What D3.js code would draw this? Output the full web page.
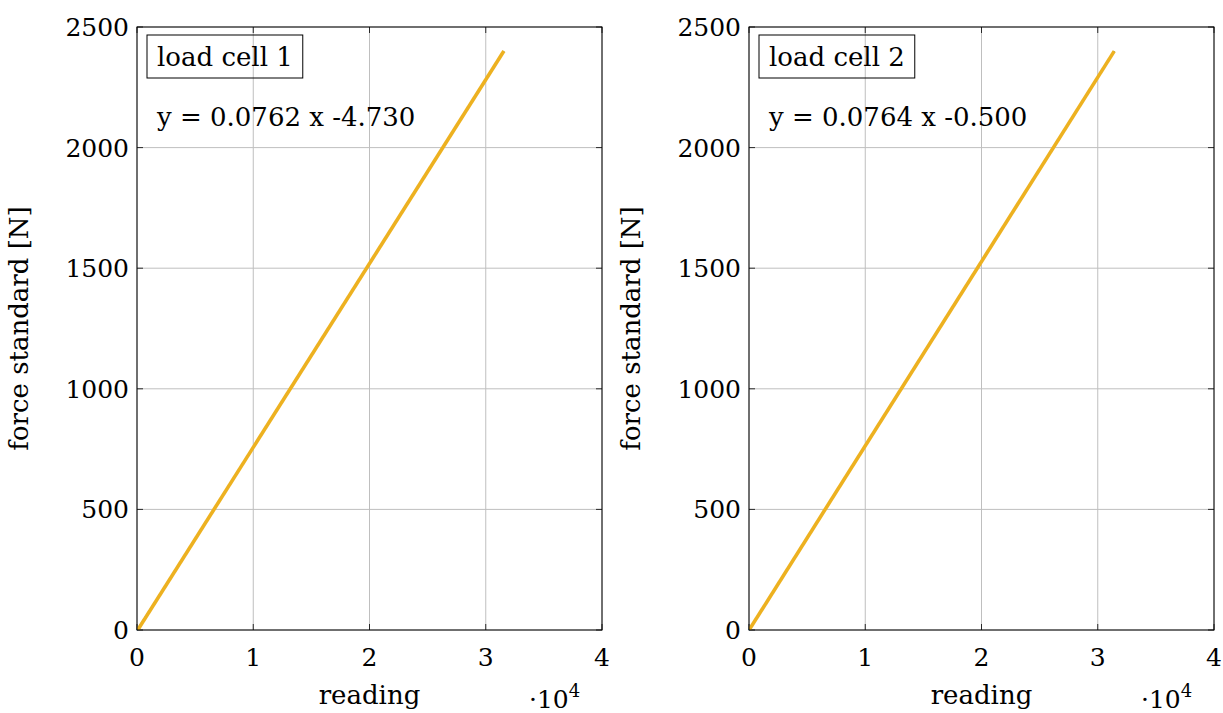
<!DOCTYPE html>
<html>
<head>
<meta charset="utf-8">
<script src="https://cdn.jsdelivr.net/npm/d3@7"></script>
<style>
  body { margin: 0; background: #fff; }
</style>
</head>
<body>
<div id="chart"></div>
<script>
// calibration steps of the force standard [N]
const forces = [0, 200, 400, 600, 800, 1000, 1200, 1400, 1600, 1800, 2000, 2200, 2400];
// raw readings of each load cell
const readings1 = [0, 2690, 5300, 7940, 10560, 13190, 15810, 18440, 21060, 23680, 26310, 28930, 31560];
const readings2 = [0, 2620, 5240, 7860, 10480, 13100, 15710, 18330, 20950, 23570, 26180, 28800, 31420];
const fits = [
  { label: "load cell 1", slope: 0.0762, offset: -4.730 },
  { label: "load cell 2", slope: 0.0764, offset: -0.500 }
];
const xTicks = [0, 10000, 20000, 30000, 40000];
const yTicks = [0, 500, 1000, 1500, 2000, 2500];

const W = 1223, H = 713;
const svg = d3.select("#chart").append("svg")
  .attr("width", W)
  .attr("height", H)
  .attr("font-family", "'DejaVu Serif', serif");

const panels = [
  { left: 137, readings: readings1, fit: fits[0] },
  { left: 749, readings: readings2, fit: fits[1] }
];
const plotTop = 27, plotBottom = 630, pw = 465;
const fs = 26, tfs = 25;

panels.forEach(p => {
  const x = d3.scaleLinear().domain([0, 40000]).range([p.left, p.left + pw]);
  const y = d3.scaleLinear().domain([0, 2500]).range([plotBottom, plotTop]);
  const g = svg.append("g");

  // grid
  g.append("g").selectAll("line").data(xTicks).enter().append("line")
    .attr("x1", d => x(d)).attr("x2", d => x(d))
    .attr("y1", plotTop).attr("y2", plotBottom)
    .attr("stroke", "#bfbfbf").attr("stroke-width", 1);
  g.append("g").selectAll("line").data(yTicks).enter().append("line")
    .attr("x1", p.left).attr("x2", p.left + pw)
    .attr("y1", d => y(d)).attr("y2", d => y(d))
    .attr("stroke", "#bfbfbf").attr("stroke-width", 1);

  // inward ticks on all sides
  const tk = g.append("g").attr("stroke", "#000").attr("stroke-width", 0.8);
  xTicks.forEach(d => {
    tk.append("line").attr("x1", x(d)).attr("x2", x(d)).attr("y1", plotBottom).attr("y2", plotBottom - 6);
    tk.append("line").attr("x1", x(d)).attr("x2", x(d)).attr("y1", plotTop).attr("y2", plotTop + 6);
  });
  yTicks.forEach(d => {
    tk.append("line").attr("x1", p.left).attr("x2", p.left + 6).attr("y1", y(d)).attr("y2", y(d));
    tk.append("line").attr("x1", p.left + pw).attr("x2", p.left + pw - 6).attr("y1", y(d)).attr("y2", y(d));
  });

  // data line (blue) and fit line (orange)
  const pts = p.readings.map((r, i) => [r, forces[i]]);
  g.append("path")
    .datum(pts)
    .attr("fill", "none")
    .attr("stroke", "#0072bd")
    .attr("stroke-width", 1.5)
    .attr("d", d3.line().x(d => x(d[0])).y(d => y(d[1])));

  const rmax = d3.max(p.readings);
  const fitPts = [0, rmax].map(r => [r, p.fit.slope * r + p.fit.offset]);
  g.append("clipPath").attr("id", "clip" + p.left)
    .append("rect").attr("x", p.left).attr("y", plotTop).attr("width", pw).attr("height", plotBottom - plotTop);
  g.append("path")
    .datum(fitPts)
    .attr("clip-path", `url(#clip${p.left})`)
    .attr("fill", "none")
    .attr("stroke", "#edb120")
    .attr("stroke-width", 3.6)
    .attr("d", d3.line().x(d => x(d[0])).y(d => y(d[1])));

  // frame
  g.append("rect")
    .attr("x", p.left).attr("y", plotTop)
    .attr("width", pw).attr("height", plotBottom - plotTop)
    .attr("fill", "none").attr("stroke", "#000").attr("stroke-width", 1);

  // tick labels
  g.append("g").selectAll("text").data(xTicks).enter().append("text")
    .attr("x", d => x(d)).attr("y", plotBottom + 36)
    .attr("text-anchor", "middle")
    .style("font-size", tfs + "px")
    .text(d => d / 10000);
  g.append("g").selectAll("text").data(yTicks).enter().append("text")
    .attr("x", p.left - 8).attr("y", d => y(d) + 9)
    .attr("text-anchor", "end")
    .style("font-size", tfs + "px")
    .text(d => d);

  // axis labels
  g.append("text")
    .attr("x", p.left + pw / 2).attr("y", 704)
    .attr("text-anchor", "middle")
    .style("font-size", fs + "px")
    .text("reading");
  const sc = g.append("text")
    .attr("x", p.left + 392).attr("y", 708)
    .style("font-size", tfs + "px");
  sc.append("tspan").text("·10");
  sc.append("tspan").attr("dy", -11).style("font-size", "18px").text("4");
  g.append("text")
    .attr("transform", `translate(${p.left - 109},${(plotTop + plotBottom) / 2}) rotate(-90)`)
    .attr("text-anchor", "middle")
    .style("font-size", fs + "px")
    .text("force standard [N]");

  // legend box
  const lg = g.append("text")
    .attr("x", p.left + 20).attr("y", plotTop + 39)
    .style("font-size", fs + "px")
    .text(p.fit.label);
  const bb = lg.node().getBBox();
  g.append("rect")
    .attr("x", p.left + 10).attr("y", plotTop + 8)
    .attr("width", bb.width + 20).attr("height", 43)
    .attr("fill", "none").attr("stroke", "#000").attr("stroke-width", 1);

  // fit equation
  g.append("text")
    .attr("x", p.left + 20).attr("y", plotTop + 99)
    .style("font-size", fs + "px")
    .text(`y = ${p.fit.slope.toFixed(4)} x ${p.fit.offset.toFixed(3)}`);
});
</script>
</body>
</html>
